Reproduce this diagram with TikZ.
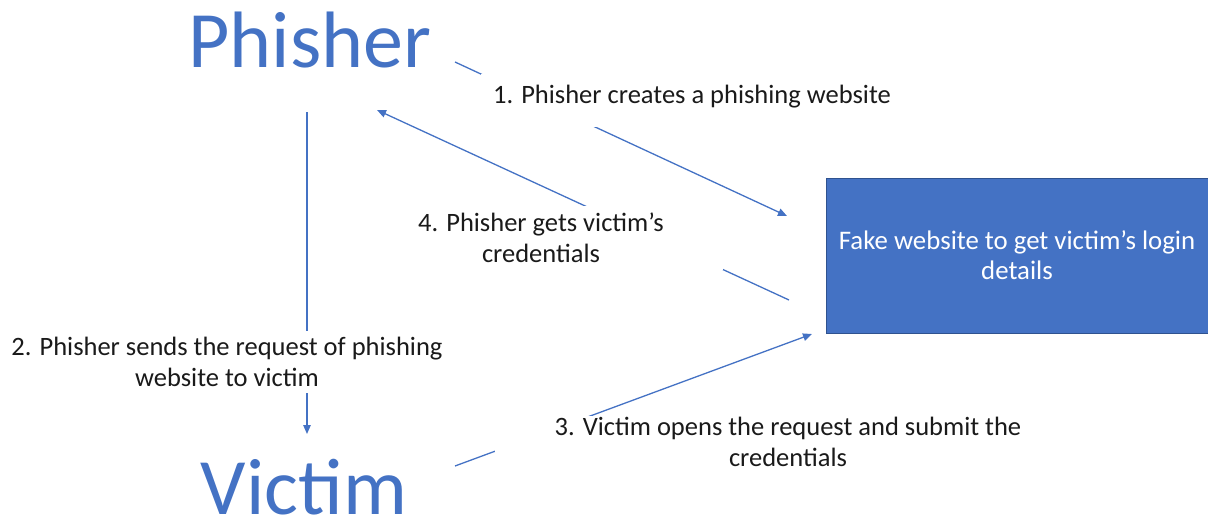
\documentclass[tikz,border=0pt]{standalone}
\usepackage{fontspec}
\setmainfont{Carlito}
\usetikzlibrary{arrows.meta}
\definecolor{accent}{HTML}{4472C4}
\definecolor{accentdark}{HTML}{2F528F}
\definecolor{labeltext}{HTML}{1A1A1A}
\tikzset{
  x=1pt, y=-1pt,
  actor/.style={text=accent, font=\fontsize{80}{80}\selectfont, inner sep=0pt, anchor=base},
  flow/.style={draw=accent, line width=1.3pt, -{Triangle[length=9pt,width=7.5pt]}},
  steplabel/.style={fill=white, text=labeltext, align=center, inner sep=0pt,
    font=\fontsize{26.5}{31}\selectfont},
  sitebox/.style={fill=accent, draw=accentdark, line width=0.8pt, text=white,
    align=center, inner sep=0pt, font=\fontsize{26.8}{30}\selectfont,
    minimum width=382pt, minimum height=155pt}
}
\begin{document}
\begin{tikzpicture}
\useasboundingbox (0,0) rectangle (1208,519);

% actors and the fake site
\node[actor] (phisher) at (310,67) {Phisher};
\node[actor] (victim) at (304,514) {Victim};
\node[sitebox] (site) at (1017,255.5) {Fake website to get victim’s login\\details};

% free ends of the connectors
\coordinate (p1s) at (455,62);
\coordinate (p1e) at (787,216);
\coordinate (p2s) at (307,112);
\coordinate (p2e) at (307,434);
\coordinate (p3s) at (455,466);
\coordinate (p3e) at (812,334);
\coordinate (p4s) at (789,300);
\coordinate (p4e) at (377,110);

% connectors
\draw[flow] (p1s) -- (p1e);
\draw[flow] (p2s) -- (p2e);
\draw[flow] (p3s) -- (p3e);
\draw[flow] (p4s) -- (p4e);

% step labels, each masking its connector
\node[steplabel, minimum width=422pt, minimum height=53pt] (lab1) at (692,100.5)
  {1. Phisher creates a phishing website\rule[-12pt]{0pt}{1pt}};
\node[steplabel, minimum width=440pt, minimum height=62pt] (lab2) at (227,362)
  {2. Phisher sends the request of phishing\\website to victim};
\node[steplabel, minimum width=586pt, minimum height=52pt] (lab3) at (788,442)
  {3. Victim opens the request and submit the\\credentials};
\node[steplabel, minimum width=364pt, minimum height=64pt] (lab4) at (541,238)
  {4. Phisher gets victim’s\\credentials};
\end{tikzpicture}
\end{document}
